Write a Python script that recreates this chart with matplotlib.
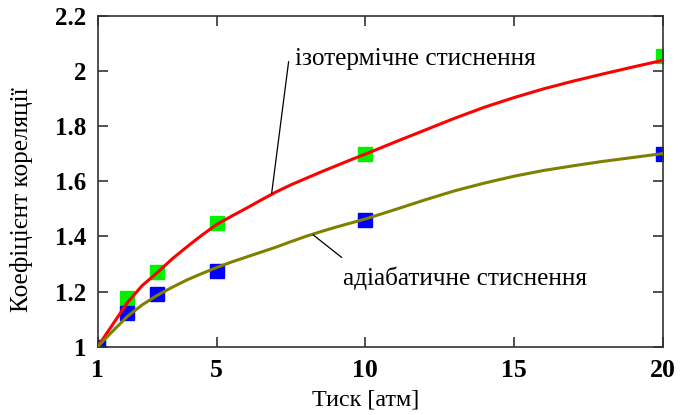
import matplotlib
matplotlib.use("Agg")
import matplotlib.pyplot as plt

# measured points
p_meas = [1, 2, 3, 5, 10, 20]
iso_meas = [1.0, 1.178, 1.27, 1.449, 1.697, 2.053]
adi_meas = [1.0, 1.121, 1.19, 1.274, 1.459, 1.697]

# curves
p_curve = [1, 1.5, 2, 2.5, 3, 3.5, 4, 4.5, 5, 5.5, 6, 6.5, 7, 7.5, 8, 8.5,
           9, 9.5, 10, 11, 12, 13, 14, 15, 16, 17, 18, 19, 20]
iso_curve = [1.0, 1.08, 1.16, 1.222, 1.268, 1.318, 1.362, 1.404, 1.443, 1.473,
             1.502, 1.532, 1.561, 1.587, 1.61, 1.633, 1.655, 1.677, 1.698,
             1.742, 1.785, 1.828, 1.868, 1.903, 1.935, 1.963, 1.989, 2.014, 2.038]
adi_curve = [1.0, 1.056, 1.11, 1.152, 1.186, 1.215, 1.242, 1.265, 1.287, 1.307,
             1.325, 1.343, 1.361, 1.381, 1.40, 1.417, 1.433, 1.448, 1.463,
             1.497, 1.532, 1.565, 1.593, 1.618, 1.639, 1.656, 1.672, 1.686, 1.70]

xticks = [1, 5, 10, 15, 20]
yticks = [1, 1.2, 1.4, 1.6, 1.8, 2, 2.2]
ytick_labels = ["1", "1.2", "1.4", "1.6", "1.8", "2", "2.2"]

plt.rcParams['font.family'] = ['Liberation Serif', 'DejaVu Serif']

fig = plt.figure(figsize=(6.89, 4.15), dpi=100)
ax = fig.add_axes([0.1418, 0.1646, 0.82, 0.7976])

ax.plot(p_meas, iso_meas, 's', color='#00f000', markersize=9.5, zorder=2)
ax.plot(p_meas, adi_meas, 's', color='#0000ff', markersize=9.5, zorder=2)
ax.plot(p_curve, iso_curve, '-', color='#ff0000', lw=2.2, zorder=3)
ax.plot(p_curve, adi_curve, '-', color='#808000', lw=2.2, zorder=3)

ax.set_xlim(1, 20)
ax.set_ylim(1, 2.2)
ax.set_xticks(xticks)
ax.set_xticklabels([str(t) for t in xticks], fontweight='bold', fontsize=18.5)
ax.set_yticks(yticks)
ax.set_yticklabels(ytick_labels, fontweight='bold', fontsize=18)
ax.tick_params(direction='in', length=7, width=1.2, color='#333333',
               top=True, right=True)
ax.tick_params(axis='x', pad=9)
ax.tick_params(axis='y', pad=8)
for s in ax.spines.values():
    s.set_linewidth(1.2)
    s.set_color('#333333')

ax.set_xlabel("Тиск [атм]", fontsize=17.4)
ax.xaxis.set_label_coords(0.475, -0.128)
ax.set_ylabel("Коефіцієнт кореляції", fontsize=18.2)
ax.yaxis.set_label_coords(-0.114, 0.443)

# annotations
ax.plot([7.42, 6.85], [2.033, 1.556], '-', color='black', lw=0.9, zorder=4)
ax.text(7.64, 2.021, "ізотермічне стиснення", fontsize=18.2, va='baseline', ha='left')
ax.plot([8.25, 9.2], [1.405, 1.324], '-', color='black', lw=0.9, zorder=4)
ax.text(9.25, 1.2236, "адіабатичне стиснення", fontsize=18.2, va='baseline', ha='left')

fig.savefig("out.png", dpi=100)
